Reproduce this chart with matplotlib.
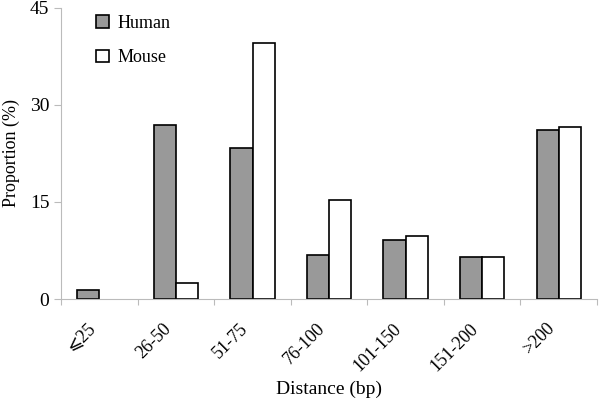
import matplotlib.pyplot as plt
import matplotlib.transforms as mtransforms
import numpy as np

plt.rcParams['font.family'] = ['Liberation Serif', 'DejaVu Sans']

categories = ["\u2a7d" + "25", "26-50", "51-75", "76-100", "101-150", "151-200", ">200"]
human = [1.4, 26.9, 23.3, 6.8, 9.1, 6.5, 26.1]
mouse = [0.0, 2.5, 39.6, 15.3, 9.7, 6.5, 26.6]

fig = plt.figure(figsize=(6, 4), dpi=100)
ax = fig.add_axes([0.102, 0.2525, 0.893, 0.728])

x = np.arange(len(categories))
w = 0.29
ax.bar(x - w / 2, human, w, color="#999999", edgecolor="black", linewidth=1.2, label="Human")
ax.bar(x + w / 2, [m if m > 0 else np.nan for m in mouse], w, color="white",
       edgecolor="black", linewidth=1.2, label="Mouse")

ax.set_xlim(-0.5, len(categories) - 0.5)
ax.set_ylim(0, 45)
ax.set_yticks([0, 15, 30, 45])
ax.set_xticks(np.arange(len(categories) + 1) - 0.5)
ax.set_xticklabels([])
ax.tick_params(axis="x", length=4, color="#bbbbbb")
ax.tick_params(axis="y", length=5, color="#bbbbbb", labelsize=14)

# rotated category labels under each group
trans = ax.get_xaxis_transform() + mtransforms.ScaledTranslation(-7 / 100, -27 / 100, fig.dpi_scale_trans)
for i, cat in enumerate(categories):
    ax.text(x[i], 0, cat, transform=trans, rotation=45, ha="right", va="center",
            rotation_mode="anchor", fontsize=13)

for s in ["top", "right"]:
    ax.spines[s].set_visible(False)
for s in ["left", "bottom"]:
    ax.spines[s].set_color("#bbbbbb")

ax.set_xlabel("Distance (bp)", fontsize=14)
ax.xaxis.set_label_coords(0.5, -0.28)
ax.set_ylabel("Proportion (%)", fontsize=13, labelpad=7)

ax.legend(loc="upper left", bbox_to_anchor=(0.035, 1.031), frameon=False, fontsize=13,
          handlelength=0.7, handleheight=0.7, handletextpad=0.5, labelspacing=0.95)

fig.savefig("out.png", dpi=100)
